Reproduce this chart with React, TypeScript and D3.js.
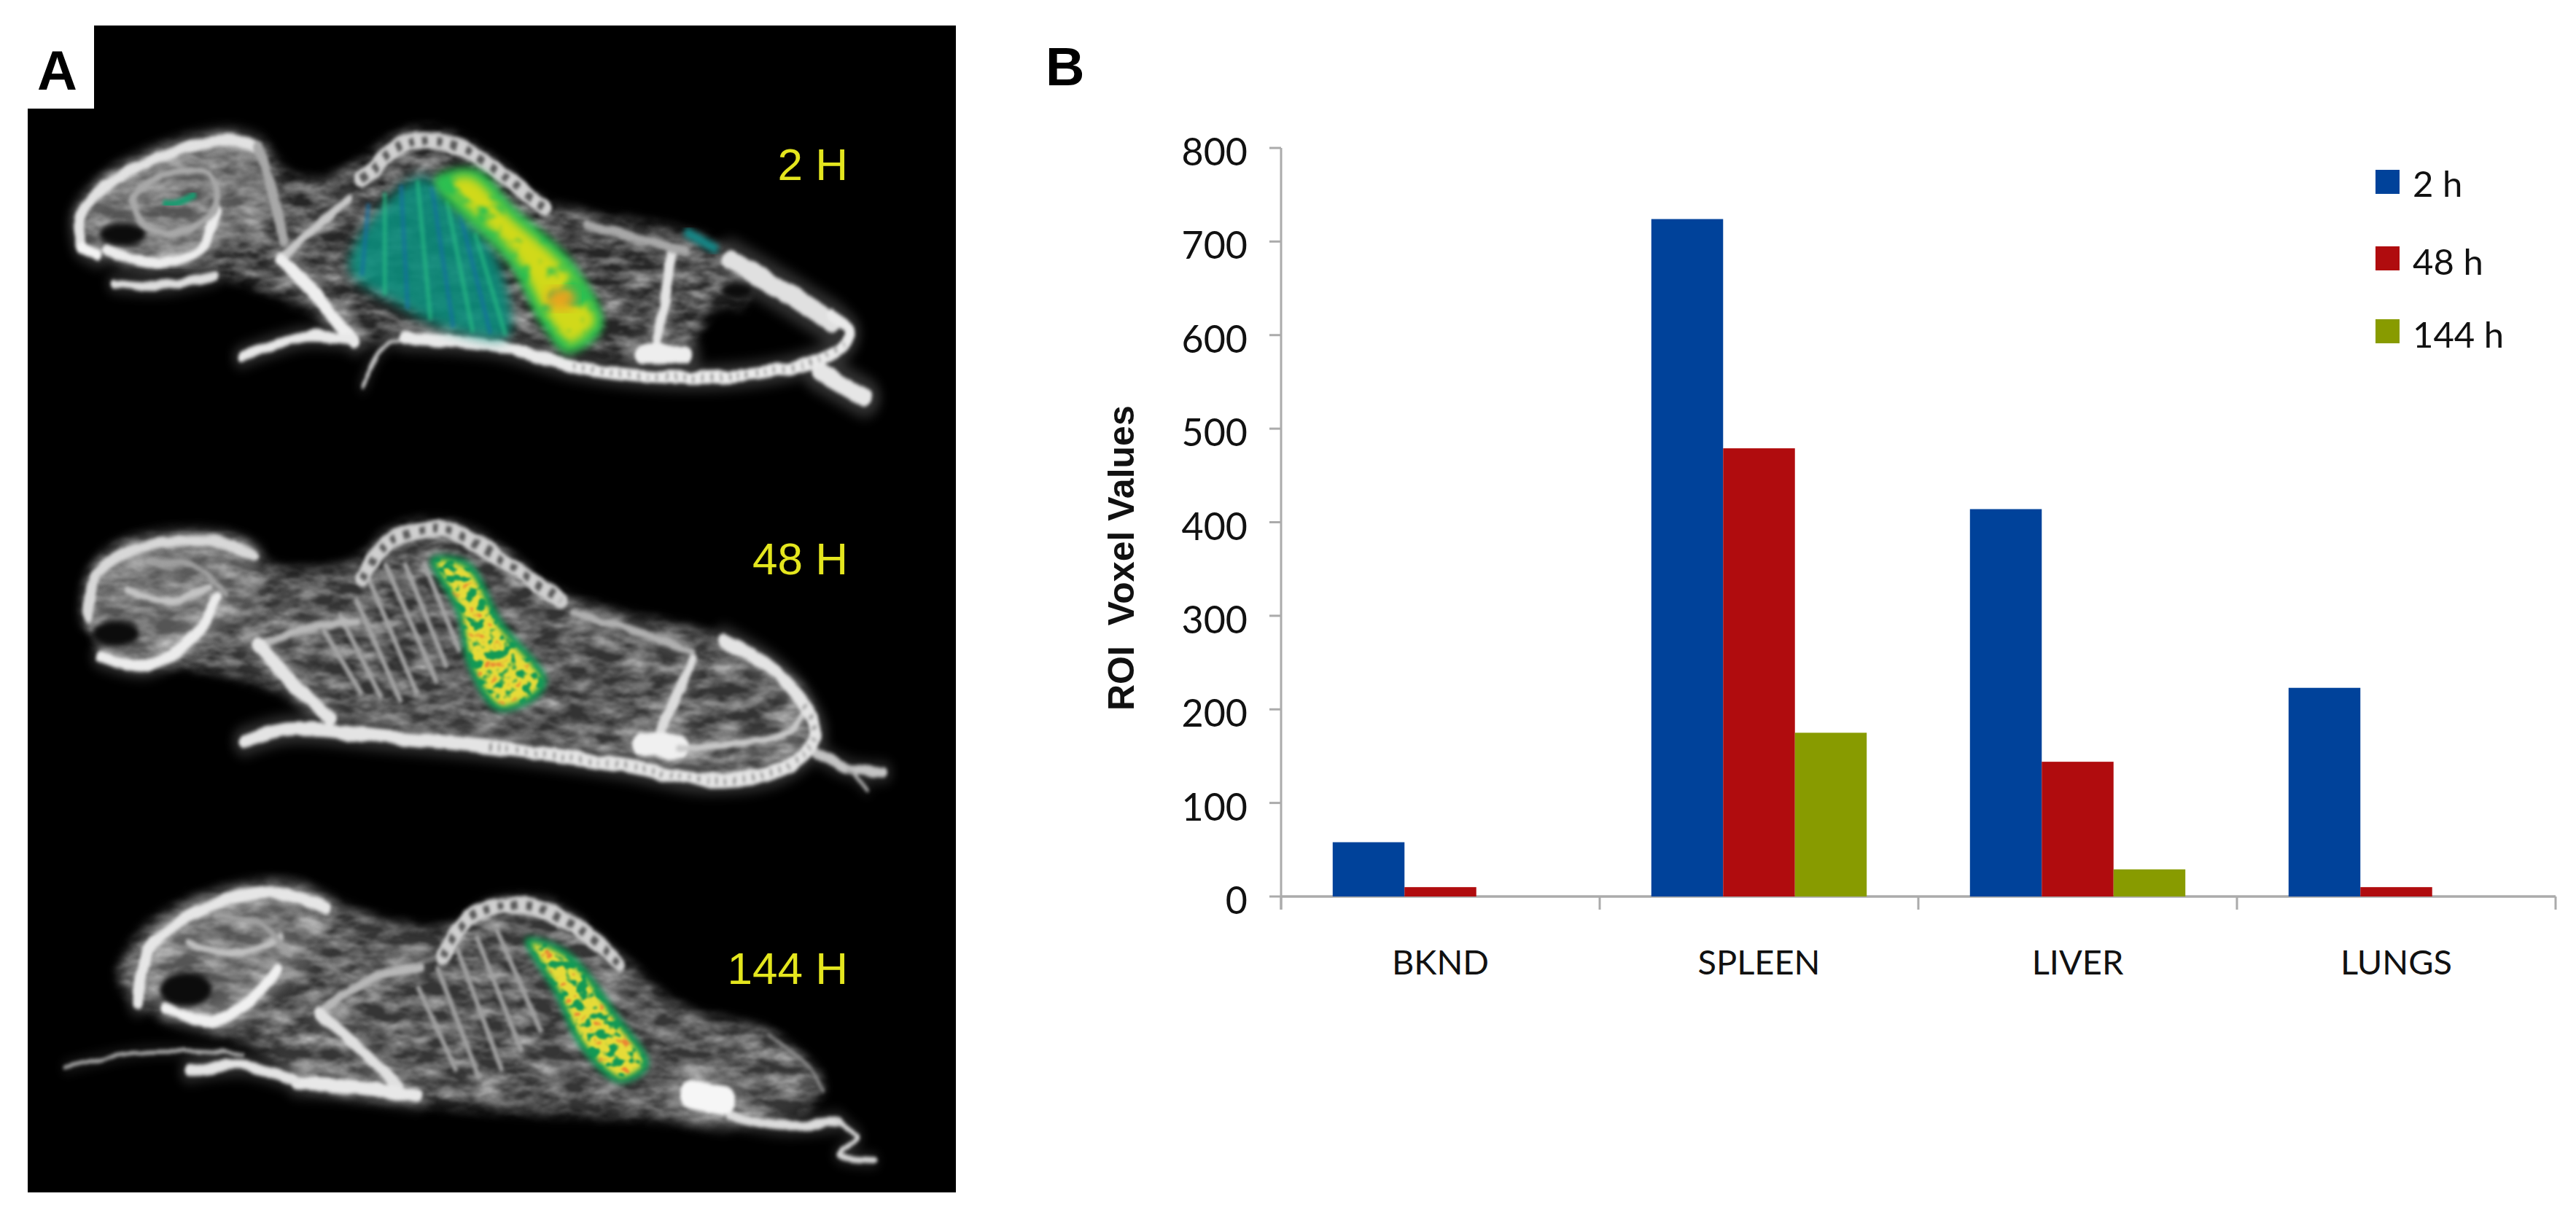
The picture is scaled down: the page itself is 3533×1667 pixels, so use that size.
import React from "react";
import * as d3 from "d3";

// ---- chart data -----------------------------------------------------------
const categories = ["BKND", "SPLEEN", "LIVER", "LUNGS"];
const seriesNames = ["2 h", "48 h", "144 h"];
const seriesColors = ["#00429a", "#b00c0e", "#889b00"];
const values2h = [58, 724, 414, 223];
const values48h = [10, 479, 144, 10];
const values144h = [0, 175, 29, 0];
const seriesValues = [values2h, values48h, values144h];
const yTicks = [0, 100, 200, 300, 400, 500, 600, 700, 800];
const panelLabels = ["2 H", "48 H", "144 H"];

// ---- illustration outlines for panel A ------------------------------------
type P = [number, number];
type Stroke = { p: P[]; w: number; c: string };
type Mouse = {
  tone: string;
  body: P[];
  skull: P[];
  bones: Stroke[];
  dark: { cx: number; cy: number; rx: number; ry: number }[];
  ribs: [P, P][];
  ribColor: string;
  spine: P[];
  tailBeads: P[];
  tail: Stroke[];
};

const mouse1: Mouse = {
  tone: "#262626",
  body: [[115,280],[160,228],[250,188],[350,172],[400,182],[440,222],[490,232],[550,208],[620,170],[690,172],[760,208],[830,258],[900,275],[1000,290],[1085,310],[1135,345],[1145,390],[1100,395],[1040,455],[900,458],[760,438],[620,432],[540,440],[480,400],[410,375],[300,345],[200,340],[140,322]],
  skull: [[130,290],[170,240],[260,200],[350,185],[400,210],[420,270],[360,310],[300,335],[220,335],[165,320]],
  bones: [
    { p: [[126,316],[122,280],[170,235],[260,198],[350,180],[395,190]], w: 15, c: "#e2e2e2" },
    { p: [[128,318],[150,328]], w: 16, c: "#f4f4f4" },
    { p: [[165,322],[230,338],[305,322],[332,270]], w: 14, c: "#ececec" },
    { p: [[250,225],[320,225],[330,270],[275,300],[220,290],[205,255],[250,225]], w: 9, c: "#a8a8a8" },
    { p: [[395,190],[420,250],[435,310]], w: 14, c: "#a8a8a8" },
    { p: [[430,335],[480,295],[535,255]], w: 12, c: "#c8c8c8" },
    { p: [[430,335],[480,375],[520,420],[545,440]], w: 17, c: "#eeeeee" },
    { p: [[545,438],[470,434],[420,445],[370,460]], w: 13, c: "#e8e8e8" },
    { p: [[175,365],[250,368],[330,355]], w: 11, c: "#dedede" },
    { p: [[1030,325],[1018,390],[1005,450]], w: 14, c: "#e4e4e4" },
    { p: [[985,456],[1050,456]], w: 24, c: "#eeeeee" },
    { p: [[900,290],[1000,312],[1050,325]], w: 11, c: "#a8a8a8" },
    { p: [[1120,335],[1200,375],[1275,415]], w: 27, c: "#e0e0e0" },
    { p: [[1255,478],[1325,512]], w: 25, c: "#e6e6e6" },
  ],
  dark: [{ cx: 188, cy: 302, rx: 36, ry: 15 }, { cx: 1130, cy: 375, rx: 24, ry: 11 }],
  ribs: [],
  ribColor: "#8a8a8a",
  spine: [[555,232],[620,184],[690,186],[765,222],[835,268]],
  tailBeads: [[880,472],[1000,485],[1120,485],[1230,470],[1295,445]],
  tail: [
    { p: [[556,498],[585,450],[650,432]], w: 6, c: "#bdbdbd" },
    { p: [[620,436],[760,445],[880,472],[1000,485],[1120,485],[1230,470],[1295,445],[1302,425],[1275,405]], w: 16, c: "#eaeaea" },
  ],
};

const mouse2: Mouse = {
  tone: "#333333",
  body: [[128,770],[160,712],[250,688],[370,695],[420,730],[540,725],[600,682],[680,672],[760,700],[850,760],[950,790],[1080,815],[1170,850],[1230,890],[1250,950],[1210,985],[1100,1000],[1000,985],[800,960],[600,940],[500,920],[400,880],[300,860],[180,852],[140,815]],
  skull: [[138,780],[170,720],[260,695],[370,705],[400,770],[340,815],[280,845],[200,855],[160,840]],
  bones: [
    { p: [[136,795],[145,745],[205,708],[330,698],[390,715]], w: 14, c: "#d8d8d8" },
    { p: [[155,845],[225,857],[300,817],[332,770]], w: 15, c: "#ececec" },
    { p: [[195,760],[260,775],[320,755]], w: 9, c: "#c4c4c4" },
    { p: [[225,725],[300,730],[345,765]], w: 7, c: "#a0a0a0" },
    { p: [[395,832],[470,810],[545,800]], w: 11, c: "#b8b8b8" },
    { p: [[395,830],[450,880],[505,925]], w: 18, c: "#e4e4e4" },
    { p: [[1060,850],[1030,910],[1005,955]], w: 14, c: "#dcdcdc" },
    { p: [[985,958],[1040,962]], w: 32, c: "#f0f0f0" },
    { p: [[1040,965],[1130,958],[1205,945],[1235,915]], w: 9, c: "#c8c8c8" },
    { p: [[880,790],[980,815],[1060,840]], w: 10, c: "#b0b0b0" },
    { p: [[1245,965],[1300,990],[1355,995]], w: 13, c: "#c4c4c4" },
    { p: [[1300,992],[1330,1018]], w: 5, c: "#a8a8a8" },
  ],
  dark: [{ cx: 178, cy: 816, rx: 36, ry: 17 }],
  ribs: [[[590,725],[670,880]],[[565,745],[640,895]],[[545,770],[615,905]],[[620,725],[685,860]],[[650,725],[705,840]],[[520,790],[585,900]],[[495,810],[555,895]]],
  ribColor: "#a4a4a4",
  spine: [[555,745],[600,696],[680,682],[760,716],[860,775]],
  tailBeads: [[750,962],[950,985],[1090,1005],[1200,990],[1250,950],[1230,905]],
  tail: [
    { p: [[375,955],[440,940],[600,950],[750,962],[950,985],[1090,1005],[1200,990],[1250,950],[1230,905],[1180,860],[1110,825]], w: 18, c: "#e4e4e4" },
  ],
};

const mouse3: Mouse = {
  tone: "#353535",
  body: [[180,1260],[230,1190],[330,1150],[450,1138],[520,1165],[600,1188],[680,1195],[760,1160],[850,1165],[950,1232],[1050,1300],[1180,1330],[1262,1395],[1240,1425],[1130,1448],[1000,1440],[800,1432],[640,1420],[520,1408],[450,1392],[400,1350],[300,1322],[230,1300]],
  skull: [[215,1270],[240,1205],[320,1165],[430,1155],[500,1190],[470,1250],[400,1290],[330,1312],[260,1300]],
  bones: [
    { p: [[212,1292],[226,1228],[300,1175],[420,1150],[500,1170]], w: 16, c: "#e6e6e6" },
    { p: [[255,1300],[330,1314],[385,1287],[425,1250]], w: 15, c: "#f0f0f0" },
    { p: [[290,1215],[370,1228],[430,1205]], w: 9, c: "#c0c0c0" },
    { p: [[330,1180],[400,1190],[445,1230]], w: 7, c: "#a0a0a0" },
    { p: [[490,1305],[560,1265],[645,1245]], w: 11, c: "#b8b8b8" },
    { p: [[490,1305],[550,1350],[610,1400]], w: 15, c: "#e0e0e0" },
    { p: [[455,1395],[540,1400],[640,1412]], w: 17, c: "#e8e8e8" },
    { p: [[290,1380],[370,1372],[450,1390]], w: 14, c: "#e4e4e4" },
    { p: [[1120,1438],[1200,1450],[1285,1445]], w: 12, c: "#dcdcdc" },
    { p: [[1285,1445],[1315,1465],[1285,1488],[1340,1495]], w: 7, c: "#d4d4d4" },
    { p: [[1060,1410],[1110,1418]], w: 38, c: "#f6f6f6" },
    { p: [[1180,1335],[1240,1375],[1262,1405]], w: 5, c: "#8a8a8a" },
    { p: [[100,1375],[220,1355],[370,1358]], w: 5, c: "#b0b0b0" },
  ],
  dark: [{ cx: 285, cy: 1275, rx: 40, ry: 23 }],
  ribs: [[[700,1220],[770,1380]],[[730,1205],[800,1355]],[[670,1245],[735,1390]],[[760,1195],[830,1330]],[[640,1270],[700,1380]]],
  ribColor: "#a0a0a0",
  spine: [[680,1232],[720,1182],[800,1166],[880,1192],[950,1242]],
  tailBeads: [],
  tail: [],
};

// signal overlay outlines in panel A
const lungsHot: P[] = [[535,345],[590,262],[650,228],[700,270],[760,330],[780,432],[700,428],[610,392]];
const spleenHot1: P[] = [[665,232],[730,218],[790,268],[880,340],[925,420],[870,455],[830,418],[780,340]];
const spleenHot2: P[] = [[660,720],[720,725],[770,800],[838,875],[825,898],[762,915],[718,860],[700,790]];
const spleenHot3: P[] = [[805,1210],[870,1225],[950,1310],[995,1372],[950,1395],[890,1350],[850,1280]];
const lungRibStarts: P[] = [[565,262],[590,248],[615,238],[640,232],[662,240],[685,258],[705,275],[728,300]];
const lungRibEnds: P[] = [[555,355],[590,380],[625,398],[660,412],[695,422],[725,428],[752,430],[775,432]];

const smooth = d3.line<P>().curve(d3.curveCatmullRom.alpha(0.5));
const smoothClosed = d3.line<P>().curve(d3.curveCatmullRomClosed.alpha(0.5));

function MouseShape({ m }: { m: Mouse }) {
  const allBones = [...m.bones, ...m.tail];
  return (
    <g>
      <g filter="url(#tissue)">
        <path d={smoothClosed(m.body) || ""} fill={m.tone} filter="url(#soft8)" />
      </g>
      <g filter="url(#tissue)">
        <path d={smoothClosed(m.skull) || ""} fill="#555" filter="url(#soft8)" />
      </g>
      <g filter="url(#soft2)">
        {m.ribs.map((r, i) => (
          <path key={i} d={smooth(r) || ""} fill="none" stroke={m.ribColor} strokeWidth={7} />
        ))}
      </g>
      <g filter="url(#soft8)" opacity={0.22}>
        {allBones.map((s, i) => (
          <path key={i} d={smooth(s.p) || ""} fill="none" stroke={s.c} strokeWidth={s.w * 2} strokeLinecap="round" />
        ))}
      </g>
      <g filter="url(#soft4)">
        {m.dark.map((d, i) => (
          <ellipse key={i} cx={d.cx} cy={d.cy} rx={d.rx} ry={d.ry} fill="#0c0c0c" />
        ))}
      </g>
      <g filter="url(#bone)">
        {allBones.map((s, i) => (
          <path key={i} d={smooth(s.p) || ""} fill="none" stroke={s.c} strokeWidth={s.w} strokeLinecap="round" strokeLinejoin="round" />
        ))}
        <path d={smooth(m.spine) || ""} fill="none" stroke="#cfcfcf" strokeWidth={22} strokeLinecap="round" />
        <path d={smooth(m.spine) || ""} fill="none" stroke="#5a5a5a" strokeWidth={11} strokeDasharray="9 13" />
        {m.tailBeads.length > 0 && (
          <path d={smooth(m.tailBeads) || ""} fill="none" stroke="#8e8e8e" strokeWidth={8} strokeDasharray="3 11" />
        )}
      </g>
    </g>
  );
}

// ---- chart geometry ---------------------------------------------------------
const axisX0 = 1757;
const axisX1 = 3505;
const axisY0 = 1230;
const axisY1 = 203;
const labelFont = "Lato, 'Open Sans', sans-serif";
const axisColor = "#ababab";

export default function App() {
  const y = d3.scaleLinear().domain([0, 800]).range([axisY0, axisY1]);
  const x0 = d3.scaleBand<string>().domain(categories).range([axisX0, axisX1]);
  const x1 = d3.scaleBand<string>().domain(seriesNames).range([x0.step() * 0.162, x0.step() * 0.838]);
  const edges = d3.range(categories.length + 1).map((i) => axisX0 + i * x0.step());
  const labelY = [247, 788, 1350];

  return (
    <svg
      width={3533}
      height={1667}
      viewBox="0 0 3533 1667"
      style={{ position: "fixed", left: 0, top: 0, background: "#fff" }}
    >
      <defs>
        <filter id="soft2" x="-10%" y="-10%" width="120%" height="120%" colorInterpolationFilters="sRGB"><feGaussianBlur stdDeviation="2.5" /></filter>
        <filter id="soft4" x="-20%" y="-20%" width="140%" height="140%" colorInterpolationFilters="sRGB"><feGaussianBlur stdDeviation="4" /></filter>
        <filter id="soft8" x="-15%" y="-15%" width="130%" height="130%" colorInterpolationFilters="sRGB"><feGaussianBlur stdDeviation="8" /></filter>

        <filter id="bone" x="-5%" y="-5%" width="110%" height="110%" colorInterpolationFilters="sRGB">
          <feTurbulence type="fractalNoise" baseFrequency="0.03" numOctaves="2" seed="3" result="n" />
          <feDisplacementMap in="SourceGraphic" in2="n" scale="9" xChannelSelector="R" yChannelSelector="G" result="d" />
          <feGaussianBlur in="d" stdDeviation="2.6" />
        </filter>

        <filter id="tissue" x="-5%" y="-5%" width="110%" height="110%" colorInterpolationFilters="sRGB">
          <feTurbulence type="fractalNoise" baseFrequency="0.022 0.06" numOctaves="4" seed="7" result="n" />
          <feColorMatrix in="n" type="matrix" values="0 0 0 0 1  0 0 0 0 1  0 0 0 0 1  1.1 0 0 0 -0.36" result="w" />
          <feGaussianBlur in="w" stdDeviation="1.6" result="wb" />
          <feComposite in="wb" in2="SourceAlpha" operator="in" result="streak" />
          <feMerge><feMergeNode in="SourceGraphic" /><feMergeNode in="streak" /></feMerge>
        </filter>

        <filter id="mottle" x="-15%" y="-15%" width="130%" height="130%" colorInterpolationFilters="sRGB">
          <feGaussianBlur in="SourceGraphic" stdDeviation="4" result="base" />
          <feMorphology in="SourceAlpha" operator="erode" radius="7" result="coreRaw" />
          <feGaussianBlur in="coreRaw" stdDeviation="3" result="core" />
          <feTurbulence type="fractalNoise" baseFrequency="0.06 0.08" numOctaves="2" seed="11" result="n" />
          <feColorMatrix in="n" type="matrix" values="0 0 0 0 0.9  0 0 0 0 0.86  0 0 0 0 0.22  8 0 0 0 -3" result="yel" />
          <feComposite in="yel" in2="core" operator="in" result="yelIn" />
          <feColorMatrix in="n" type="matrix" values="0 0 0 0 0.92  0 0 0 0 0.52  0 0 0 0 0.2  9 0 0 0 -5.8" result="ora" />
          <feComposite in="ora" in2="core" operator="in" result="oraIn" />
          <feMerge result="m"><feMergeNode in="base" /><feMergeNode in="yelIn" /><feMergeNode in="oraIn" /></feMerge>
          <feGaussianBlur in="m" stdDeviation="1.6" />
        </filter>

        <filter id="spleenLarge" x="-15%" y="-15%" width="130%" height="130%" colorInterpolationFilters="sRGB">
          <feGaussianBlur in="SourceGraphic" stdDeviation="5" result="base" />
          <feMorphology in="SourceAlpha" operator="erode" radius="10" result="coreRaw" />
          <feGaussianBlur in="coreRaw" stdDeviation="6" result="core" />
          <feTurbulence type="fractalNoise" baseFrequency="0.02 0.035" numOctaves="3" seed="5" result="n" />
          <feColorMatrix in="n" type="matrix" values="0 0 0 0 0.82  0 0 0 0 0.85  0 0 0 0 0.1  5 0 0 0 -1.6" result="yel" />
          <feComposite in="yel" in2="core" operator="in" result="yelIn" />
          <feMerge result="m"><feMergeNode in="base" /><feMergeNode in="yelIn" /></feMerge>
          <feGaussianBlur in="m" stdDeviation="2.5" />
        </filter>
      </defs>

      {/* Panel A */}
      <rect x={38} y={35} width={1273} height={1601} fill="#000" />
      <g transform="scale(0.8946,1.065)">
        <MouseShape m={mouse1} />
        <MouseShape m={mouse2} />
        <MouseShape m={mouse3} />

        <path d={smoothClosed(lungsHot) || ""} fill="#0b8f7e" opacity={0.88} filter="url(#soft8)" />
        <g filter="url(#soft2)" opacity={0.6}>
          {lungRibStarts.map((s, i) => (
            <path key={i} d={smooth([s, lungRibEnds[i]]) || ""} fill="none" stroke={i % 2 ? "#27bd84" : "#146fa2"} strokeWidth={7} />
          ))}
        </g>
        <path d={smoothClosed(spleenHot1) || ""} fill="#2cc050" filter="url(#spleenLarge)" />
        <ellipse cx={860} cy={385} rx={24} ry={14} fill="#e8a020" filter="url(#soft8)" />
        <path d={smooth([[250,262],[270,262],[300,250]]) || ""} fill="none" stroke="#1a9a70" strokeWidth={9} filter="url(#soft2)" />
        <path d={smooth([[265,240],[265,290]]) || ""} fill="none" stroke="#1f9a5a" strokeWidth={8} filter="url(#soft2)" />
        <path d={smooth([[1050,298],[1100,322]]) || ""} fill="none" stroke="#128a8a" strokeWidth={12} filter="url(#soft4)" />

        <path d={smoothClosed(spleenHot2) || ""} fill="#129a55" filter="url(#mottle)" />
        <path d={smoothClosed(spleenHot3) || ""} fill="#129a55" filter="url(#mottle)" />
      </g>

      <rect x={0} y={0} width={129} height={149} fill="#fff" />
      <rect x={0} y={0} width={1320} height={35} fill="#fff" />
      <rect x={0} y={0} width={38} height={1667} fill="#fff" />
      <rect x={0} y={1636} width={1320} height={31} fill="#fff" />
      <text x={51} y={123} fontFamily="'Liberation Sans', Arial, sans-serif" fontWeight={700} fontSize={76} fill="#000">A</text>

      {panelLabels.map((t, i) => (
        <text key={t} x={1163} y={labelY[i]} textAnchor="end" fontFamily="'Liberation Sans', Arial, sans-serif" fontSize={62} fill="#e4e61e">
          {t}
        </text>
      ))}

      {/* Panel B */}
      <text x={1434} y={117} fontFamily="'Liberation Sans', Arial, sans-serif" fontWeight={700} fontSize={74} fill="#000">B</text>

      <g>
        <line x1={axisX0} x2={axisX0} y1={axisY1} y2={axisY0 + 18} stroke={axisColor} strokeWidth={3} />
        <line x1={axisX0} x2={axisX1} y1={axisY0} y2={axisY0} stroke={axisColor} strokeWidth={3.5} />
        {yTicks.map((t) => (
          <g key={t}>
            <line x1={axisX0 - 16} x2={axisX0} y1={y(t)} y2={y(t)} stroke={axisColor} strokeWidth={3} />
            <text x={1711} y={y(t) + 24} textAnchor="end" fontFamily={labelFont} fontSize={52} fill="#111">{t}</text>
          </g>
        ))}
        {edges.map((e) => (
          <line key={e} x1={e} x2={e} y1={axisY0} y2={axisY0 + 18} stroke={axisColor} strokeWidth={3} />
        ))}
        {categories.map((c) => (
          <text key={c} x={(x0(c) as number) + x0.bandwidth() / 2} y={1337} textAnchor="middle" fontFamily={labelFont} fontSize={47} fill="#111">{c}</text>
        ))}
        {seriesNames.map((s, si) =>
          categories.map((c, ci) => {
            const v = seriesValues[si][ci];
            if (!v) return null;
            return (
              <rect
                key={s + c}
                x={(x0(c) as number) + (x1(s) as number)}
                y={y(v)}
                width={x1.bandwidth()}
                height={axisY0 - y(v)}
                fill={seriesColors[si]}
              />
            );
          })
        )}
        {seriesNames.map((s, i) => (
          <g key={s}>
            <rect x={3258} y={[233, 338, 438][i]} width={33} height={33} fill={seriesColors[i]} />
            <text x={3309} y={[270, 377, 477][i]} fontFamily={labelFont} fontSize={49} fill="#111">{s}</text>
          </g>
        ))}
        <text
          transform="translate(1555,975) rotate(-90)"
          fontFamily="'Liberation Sans', Arial, sans-serif"
          fontWeight={700}
          fontSize={50}
          fill="#111"
          xmlSpace="preserve"
        >
          ROI  Voxel Values
        </text>
      </g>
    </svg>
  );
}
